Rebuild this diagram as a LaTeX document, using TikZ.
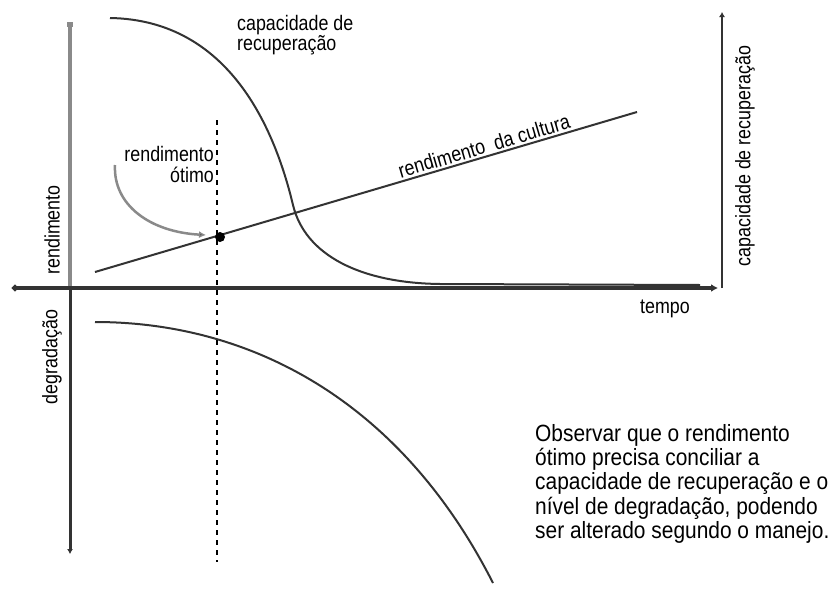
\documentclass[tikz,border=0pt]{standalone}
\usepackage{fontspec}
\setmainfont{Liberation Sans}
\newfontfamily\lab[FakeStretch=0.85]{Liberation Sans}
\newfontfamily\body[FakeStretch=0.89]{Liberation Sans}
\usetikzlibrary{arrows.meta}
\definecolor{axisdark}{HTML}{333333}
\definecolor{axisgray}{HTML}{8A8A8A}
\definecolor{curvecol}{HTML}{333333}
\begin{document}
\begin{tikzpicture}[x=1pt,y=-1pt,
  lbl/.style={inner sep=0pt,font=\lab\fontsize{21}{20}\selectfont},
  axisline/.style={draw=axisdark,line width=3.5pt},
  curve/.style={draw=curvecol,line width=2pt}
]
\useasboundingbox (0,0) rectangle (840,589);
\fill[white] (0,0) rectangle (840,589);

% coordinates of axes
\coordinate (hl) at (12,288);
\coordinate (hr) at (718,288);
\coordinate (origin) at (70,288);
\coordinate (vtop) at (70,22);
\coordinate (vbot) at (70,554);
\coordinate (rtop) at (722,12);
\coordinate (rbot) at (722,288);

% left vertical axis: upper gray, lower dark
\draw[draw=axisgray,line width=4pt,{Square[length=5pt,width=6pt,fill=axisdark]}-] (vtop) -- (origin);
\draw[draw=axisdark,line width=3pt,-{Latex[length=5pt,width=6pt]}] (origin) -- (vbot);
% right vertical axis
\draw[draw=axisdark,line width=2pt,-{Latex[length=5pt,width=6pt]}] (rbot) -- (rtop);

% recovery curve
\coordinate (c0) at (110,18);
\coordinate (c1) at (293,205);
\coordinate (c2) at (440,284);
\coordinate (c3) at (700,285);
\draw[curve] (c0) .. controls (230,20) and (275,130) .. (c1)
  .. controls (305,255) and (360,283) .. (c2) -- (c3);

% horizontal axis
\draw[axisline,{Circle[length=6pt,width=6pt]}-{Latex[length=7pt,width=8pt]}] (hl) -- (hr);

% crop yield line
\coordinate (y0) at (95,272);
\coordinate (y1) at (637,112);
\draw[draw=curvecol,line width=2pt] (y0) -- (y1);

% degradation curve
\coordinate (d0) at (95,322);
\coordinate (d1) at (493,583);
\draw[curve] (d0) .. controls (250,322) and (400,400) .. (d1);

% dashed optimum line
\coordinate (dtop) at (217,120);
\coordinate (dbot) at (217,562);
\draw[black,line width=1.6pt,dash pattern=on 5pt off 5pt] (dtop) -- (dbot);

% optimum dot
\node[circle,fill=black,minimum size=10pt,inner sep=0pt] (opt) at (220,237) {};

% gray curved arrow
\coordinate (a0) at (115,165);
\coordinate (a1) at (206,235);
\draw[draw=axisgray,line width=2.5pt,-{Latex[length=7pt,width=7pt,fill=axisdark]}] (a0) .. controls (113,205) and (150,232) .. (a1);

% labels
\node[lbl,anchor=base west] (cap1) at (237,30) {capacidade de};
\node[lbl,anchor=base west] (cap2) at (237,50) {recuperação};
\node[lbl,anchor=base east] (ro1) at (214,161) {rendimento};
\node[lbl,anchor=base east] (ro2) at (214,182) {ótimo};
\node[lbl,rotate=16.4] (rc) at (484,146) {rendimento\ \ da cultura};
\node[lbl,rotate=90] (rend) at (52,230) {rendimento};
\node[lbl,rotate=90] (degr) at (52,357) {degradação};
\node[lbl,rotate=90] (caprec) at (745,156) {capacidade de recuperação};
\node[lbl] (tempo) at (665,309) {tempo};

\node[inner sep=0pt,anchor=north west,align=left,
  font=\body\fontsize{23.5}{24.3}\selectfont] (obs) at (535,424)
  {Observar que o rendimento\\ótimo precisa conciliar a\\capacidade de recuperação e o\\nível de degradação, podendo\\ser alterado segundo o manejo.};
\end{tikzpicture}
\end{document}
